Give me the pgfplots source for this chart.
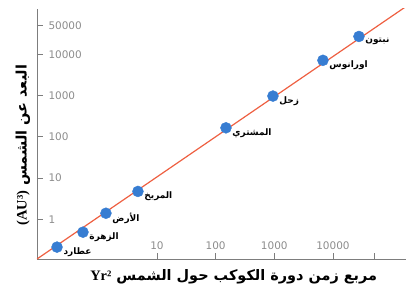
\documentclass[border=0pt]{standalone}
\usepackage{pgfplots}
\pgfplotsset{compat=1.18}
\usepackage{fontspec}
\setmainfont{Liberation Sans}
\newfontfamily\arabicfont[Script=Arabic]{DejaVu Sans}
\newfontfamily\serifb{Liberation Serif}
\newfontfamily\tickfont{DejaVu Sans}
\TeXXeTstate=1
\definecolor{ptblue}{RGB}{55,125,210}
\definecolor{linered}{RGB}{238,95,65}
\definecolor{axgray}{RGB}{125,125,125}
\definecolor{tickgray}{RGB}{140,140,140}
\begin{document}
\begin{tikzpicture}
\begin{axis}[
  scale only axis, width=369bp, height=250bp,
  xmode=log, ymode=log,
  xmin=0.0902, xmax=175800, ymin=0.1086, ymax=125900,
  axis lines*=left,
  axis line style={axgray, line width=0.7pt, -},
  xtick={10,100,1000,10000,50000}, xticklabels={10,100,1000,10000,{}},
  ytick={1,10,100,1000,10000,50000}, yticklabels={1,10,100,1000,10000,50000},
  xminorticks=false, yminorticks=false,
  tick align=inside, major tick length=6bp,
  tick style={axgray, line width=0.6pt},
  /pgf/number format/assume math mode=true,
  ticklabel style={font=\tickfont\fontsize{10.5}{11}\selectfont, text=tickgray},
  yticklabel style={anchor=west, xshift=8bp},
  xticklabel style={anchor=south, yshift=6bp},
  xlabel={\beginR مربع زمن دورة الكوكب حول الشمس \beginL{\serifb\bfseries Yr²}\endL\endR},
  xlabel style={at={(axis description cs:0.533,0)}, anchor=center, yshift=-18bp,
    font=\arabicfont\bfseries\fontsize{14.5}{16}\selectfont},
  ylabel={\beginR البعد عن الشمس \beginL{\serifb\bfseries (AU³)}\endL\endR},
  ylabel style={at={(axis description cs:0,0.456)}, anchor=center, rotate=0, yshift=14bp,
    font=\arabicfont\bfseries\fontsize{14.5}{16}\selectfont},
  clip=true,
]
\addplot[linered, line width=1.2pt] coordinates {(0.0902,0.1086) (175800,144500)};
\addplot[only marks, mark=*, mark size=5.5bp, mark options={fill=ptblue, draw=ptblue},
  point meta=explicit symbolic,
  nodes near coords={\beginR\pgfplotspointmeta\endR},
  every node near coord/.append style={anchor=west, xshift=3bp, yshift=-5bp,
    font=\arabicfont\bfseries\fontsize{9}{10}\selectfont, text=black}]
  coordinates {
  (0.198,0.211) [عطارد]
  (0.548,0.486) [الزهرة]
  (1.35,1.40) [الأرض]
  (4.74,4.73) [المريخ]
  (150,165) [المشتري]
  (948,973) [زحل]
  (6745,7165) [اورانوس]
  (27730,27150) [نبتون]
  };
\end{axis}
\pgfresetboundingbox
\useasboundingbox ([shift={(-37bp,-36bp)}]current axis.south west) rectangle ([shift={(0bp,9bp)}]current axis.north east);
\end{tikzpicture}
\end{document}
